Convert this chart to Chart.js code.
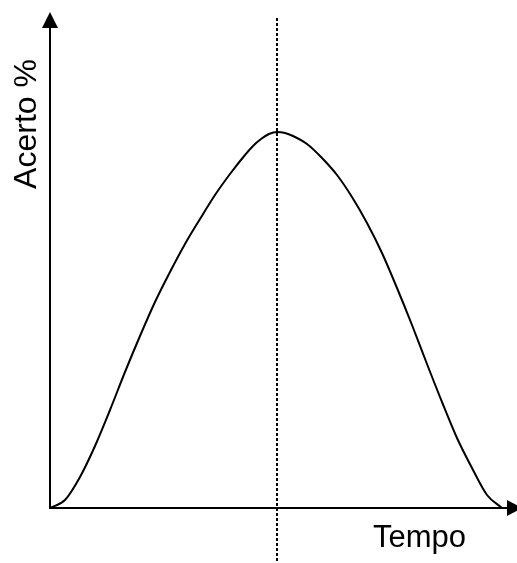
<!DOCTYPE html>
<html>
<head>
<meta charset="utf-8">
<script src="https://cdn.jsdelivr.net/npm/chart.js@4"></script>
<style>
  html, body { margin: 0; padding: 0; background: #fff; }
  canvas { display: block; }
</style>
</head>
<body>
<canvas id="acertoChart" width="517" height="563"></canvas>
<script>
// values (arbitrary units), hand smoothed
var tempo  = [0, 15, 30, 45, 60, 75, 90, 105, 120, 135, 150, 165, 180, 195, 203, 211, 219, 227,
              235, 243, 257, 272, 287, 302, 317, 332, 347, 362, 377, 392, 407, 422, 437, 452];
var acerto = [0, 8, 31, 62, 98, 136, 172, 206, 236, 264, 289, 313, 334, 353, 362, 369, 374, 376,
              375, 372, 364, 350, 333, 311, 285, 255, 220, 183, 144, 106, 70, 40, 13, 0];
var peakTempo = 227;
var xTitle = 'Tempo';
var yTitle = 'Acerto %';

var points = tempo.map(function(t, i) { return { x: t, y: acerto[i] }; });

// axes with arrows, dotted line at the peak, axis titles
var sketchAxes = {
  id: 'sketchAxes',
  afterDatasetsDraw: function(chart) {
    var c = chart.ctx;
    var x = chart.scales.x, y = chart.scales.y;
    var x0 = x.getPixelForValue(0), y0 = y.getPixelForValue(0);
    var top = chart.chartArea.top, right = chart.chartArea.right;
    c.save();
    c.strokeStyle = '#000';
    c.fillStyle = '#000';
    c.lineWidth = 2;
    c.beginPath();
    c.moveTo(x0, y0 + 1);
    c.lineTo(x0, top + 14);
    c.moveTo(x0 - 1, y0);
    c.lineTo(right - 8, y0);
    c.stroke();
    // arrow heads
    c.beginPath();
    c.moveTo(x0, top);
    c.lineTo(x0 - 8, top + 16);
    c.lineTo(x0 + 8, top + 16);
    c.closePath();
    c.fill();
    c.beginPath();
    c.moveTo(right + 5, y0);
    c.lineTo(right - 10, y0 - 8);
    c.lineTo(right - 10, y0 + 8);
    c.closePath();
    c.fill();
    // dotted line through the peak
    var px = Math.round(x.getPixelForValue(peakTempo));
    c.lineWidth = 2;
    c.setLineDash([3, 2]);
    c.beginPath();
    c.moveTo(px, 18);
    c.lineTo(px, 562);
    c.stroke();
    c.setLineDash([]);
    // titles
    c.font = '31px "Liberation Sans", Arial, sans-serif';
    c.textAlign = 'left';
    c.textBaseline = 'alphabetic';
    c.fillText(xTitle, 373, 547);
    c.translate(36, 124);
    c.rotate(-Math.PI / 2);
    c.textAlign = 'center';
    c.font = '32px "Liberation Sans", Arial, sans-serif';
    c.fillText(yTitle, 0, 0);
    c.restore();
  }
};

var ctx = document.getElementById('acertoChart').getContext('2d');
var acertoChart = new Chart(ctx, {
  type: 'scatter',
  data: {
    datasets: [{
      label: yTitle,
      data: points,
      showLine: true,
      borderColor: '#000',
      borderWidth: 2,
      pointRadius: 0,
      cubicInterpolationMode: 'monotone',
      fill: false
    }]
  },
  options: {
    responsive: false,
    animation: false,
    layout: { padding: { left: 50, right: 0, top: 12, bottom: 55 } },
    plugins: {
      legend: { display: false },
      tooltip: { enabled: false }
    },
    scales: {
      x: { type: 'linear', min: 0, max: 467, display: false },
      y: { type: 'linear', min: 0, max: 496, display: false }
    }
  },
  plugins: [sketchAxes]
});
</script>
</body>
</html>
